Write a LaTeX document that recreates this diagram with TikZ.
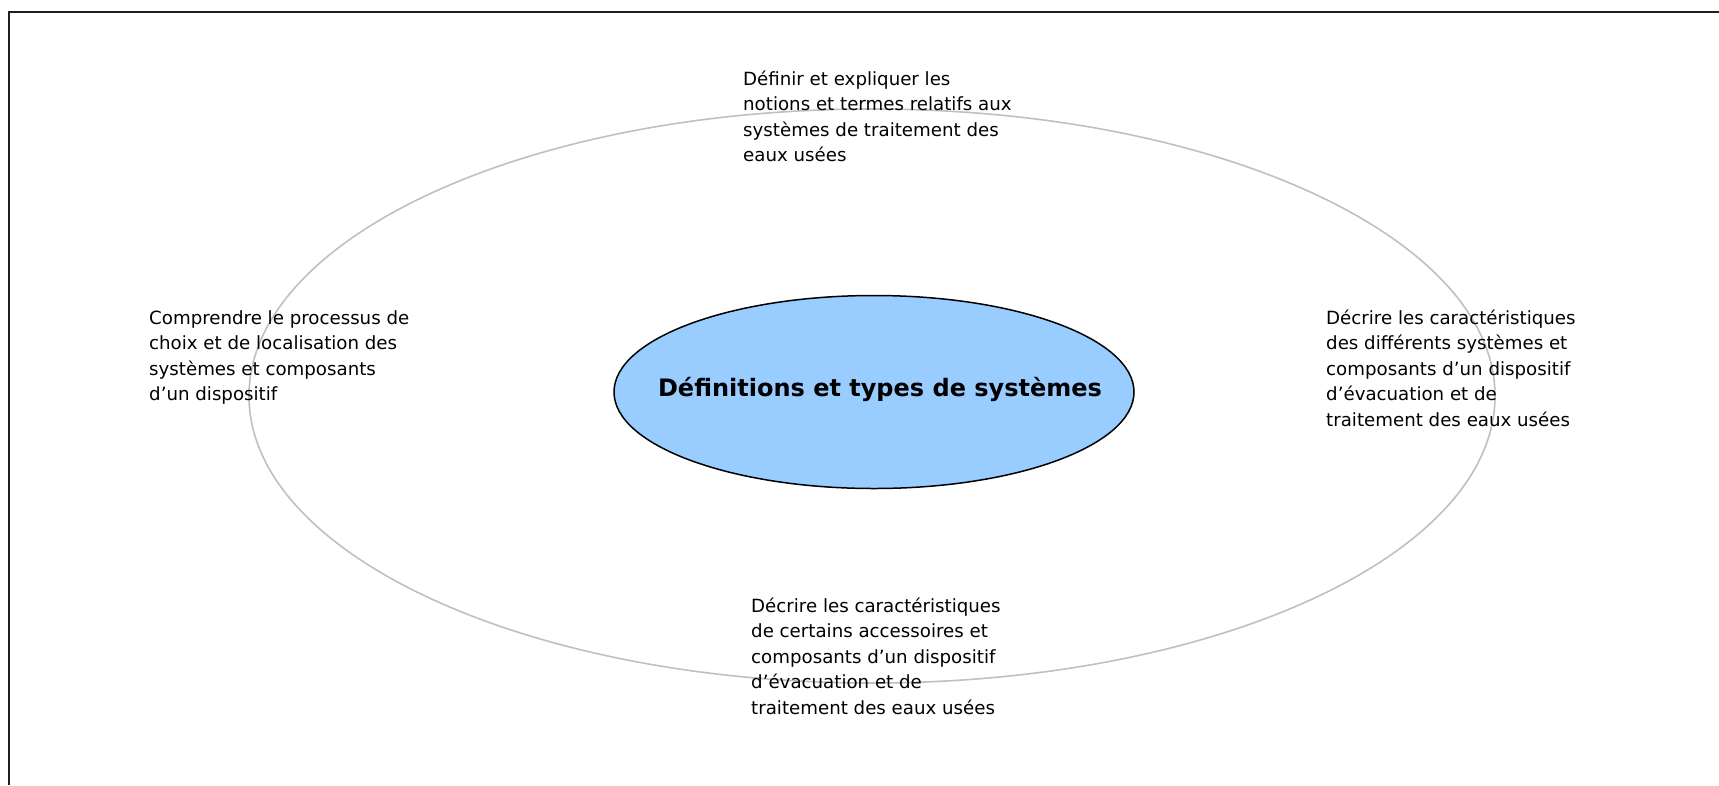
\documentclass[tikz,border=0pt]{standalone}
\usepackage{fontspec}
\setmainfont{DejaVu Sans}
\usetikzlibrary{shapes.geometric}
\definecolor{ringgray}{RGB}{192,192,192}
\definecolor{coreblue}{RGB}{153,204,255}
\definecolor{framecol}{RGB}{30,30,30}
\begin{document}
\begin{tikzpicture}[x=1pt,y=-1pt,
  lbl/.style={anchor=base west, align=left, inner sep=0pt, font=\fontsize{18.2}{25.6}\selectfont},
  ring/.style={ellipse, draw=ringgray, line width=1.6pt, inner sep=0pt, minimum width=1246pt, minimum height=574pt},
  core/.style={ellipse, draw=black, fill=coreblue, line width=1.5pt, inner sep=0pt, minimum width=520pt, minimum height=193pt},
  title/.style={inner sep=0pt, font=\fontsize{24}{28}\selectfont\bfseries},
  framebar/.style={draw=framecol, line width=2pt}]
\useasboundingbox (0,0) rectangle (1719,785);
\fill[white] (0,0) rectangle (1719,785);
\coordinate (fbl) at (9,785);
\coordinate (ftl) at (9,12);
\coordinate (ftr) at (1719,12);
\draw[framebar] (fbl) -- (ftl) -- (ftr);
\node[ring] (outer) at (872,396) {};
\node[core] (centre) at (874,392) {};
\node[title] (titletext) at (880,389) {Définitions et types de systèmes};
% base anchor of a multi-line node is the baseline of its last line
\node[lbl] (top) at (743,161.8) {Définir et expliquer les\\notions et termes relatifs aux\\systèmes de traitement des\\eaux usées};
\node[lbl] (left) at (149,400.8) {Comprendre le processus de\\choix et de localisation des\\systèmes et composants\\d’un dispositif};
\node[lbl] (right) at (1326,426.4) {Décrire les caractéristiques\\des différents systèmes et\\composants d’un dispositif\\d’évacuation et de\\traitement des eaux usées};
\node[lbl] (bottom) at (751,714.4) {Décrire les caractéristiques\\de certains accessoires et\\composants d’un dispositif\\d’évacuation et de\\traitement des eaux usées};
\end{tikzpicture}
\end{document}
